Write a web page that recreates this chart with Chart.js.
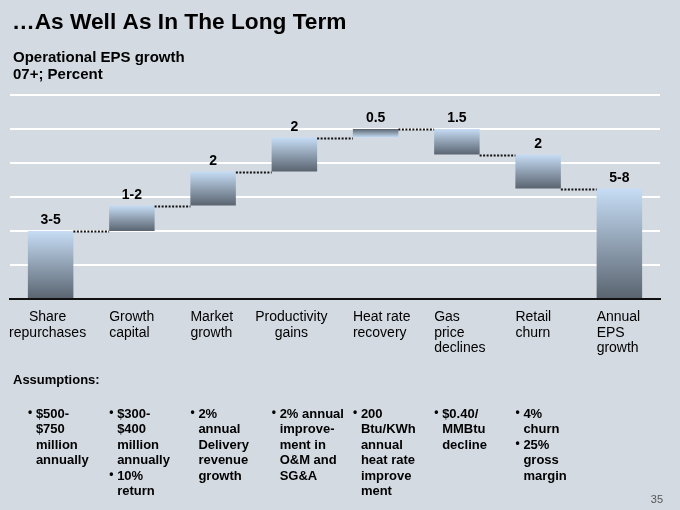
<!DOCTYPE html>
<html>
<head>
<meta charset="utf-8">
<script src="https://cdn.jsdelivr.net/npm/chart.js@4.4.1/dist/chart.umd.min.js"></script>
<style>
  html, body { margin: 0; padding: 0; background: #d3dae2; }
  #wrap { position: relative; width: 680px; height: 510px; }
</style>
</head>
<body>
<div id="wrap"><canvas id="eps" width="680" height="510"></canvas></div>
<script>
// chart data (bar extents are in chart units, 1 unit = one gridline step)
const categories = [
    ['Share', 'repurchases'],
    ['Growth', 'capital'],
    ['Market', 'growth'],
    ['Productivity', 'gains'],
    ['Heat rate', 'recovery'],
    ['Gas', 'price', 'declines'],
    ['Retail', 'churn'],
    ['Annual', 'EPS', 'growth']
];
const valueLabels = ['3-5', '1-2', '2', '2', '0.5', '1.5', '2', '5-8'];
const barStart = [0, 2, 2.75, 3.75, 4.75, 5, 4.25, 0];
const barEnd   = [2, 2.75, 3.75, 4.75, 5, 4.25, 3.25, 3.25];
const yTicks = [0, 1, 2, 3, 4, 5, 6];

const assumptions = [
    [['$500-', '$750', 'million', 'annually']],
    [['$300-', '$400', 'million', 'annually'], ['10%', 'return']],
    [['2%', 'annual', 'Delivery', 'revenue', 'growth']],
    [['2% annual', 'improve-', 'ment in', 'O&M and', 'SG&A']],
    [['200', 'Btu/KWh', 'annual', 'heat rate', 'improve', 'ment']],
    [['$0.40/', 'MMBtu', 'decline']],
    [['4%', 'churn'], ['25%', 'gross', 'margin']],
    []
];

// styling bits
const labelAlign = ['center', 'left', 'left', 'center', 'left', 'left', 'left', 'left'];
const flipShade = [false, false, false, false, true, false, false, false];
const FONT = '"Liberation Sans", Arial, sans-serif';

function barShade(ctx) {
    const chart = ctx.chart;
    const v = ctx.raw;
    if (!chart.chartArea || !Array.isArray(v)) return '#8fa3b8';
    const y = chart.scales.y;
    const top = y.getPixelForValue(Math.max(v[0], v[1]));
    const bot = y.getPixelForValue(Math.min(v[0], v[1]));
    const g = chart.ctx.createLinearGradient(0, top, 0, bot);
    const light = '#c6ddf5', dark = '#5a6470';
    g.addColorStop(0, flipShade[ctx.dataIndex] ? dark : light);
    g.addColorStop(1, flipShade[ctx.dataIndex] ? light : dark);
    return g;
}

// connectors, value labels, category labels and slide text
const waterfallExtras = {
    id: 'waterfallExtras',
    afterDatasetsDraw(chart) {
        const ctx = chart.ctx;
        const meta = chart.getDatasetMeta(0);
        const y = chart.scales.y;

        // dotted connectors between consecutive bars
        ctx.save();
        ctx.strokeStyle = '#111';
        ctx.lineWidth = 2;
        ctx.setLineDash([2, 1.5]);
        for (let i = 0; i < meta.data.length - 1; i++) {
            const a = meta.data[i], b = meta.data[i + 1];
            const py = Math.round(y.getPixelForValue(barEnd[i])) + 0.5;
            ctx.beginPath();
            ctx.moveTo(a.x + a.width / 2, py);
            ctx.lineTo(b.x - b.width / 2, py);
            ctx.stroke();
        }
        ctx.restore();

        // value labels above each bar
        ctx.save();
        ctx.fillStyle = '#000';
        ctx.font = 'bold 14px ' + FONT;
        ctx.textAlign = 'center';
        ctx.textBaseline = 'alphabetic';
        meta.data.forEach((bar, i) => {
            const top = y.getPixelForValue(Math.max(barStart[i], barEnd[i]));
            ctx.fillText(valueLabels[i], bar.x, top - 7);
        });
        ctx.restore();
    },
    afterDraw(chart) {
        const ctx = chart.ctx;
        const meta = chart.getDatasetMeta(0);
        const area = chart.chartArea;

        ctx.save();
        ctx.fillStyle = '#000';
        ctx.textBaseline = 'alphabetic';

        // headings
        ctx.textAlign = 'left';
        ctx.font = 'bold 22.7px ' + FONT;
        ctx.fillText('\u2026As Well As In The Long Term', 12, 29);
        ctx.font = 'bold 15px ' + FONT;
        ctx.fillText('Operational EPS growth', 13, 62);
        ctx.fillText('07+; Percent', 13, 79);

        // category labels under the axis
        ctx.font = '14px ' + FONT;
        meta.data.forEach((bar, i) => {
            const left = labelAlign[i] === 'left';
            ctx.textAlign = left ? 'left' : 'center';
            const x = left ? bar.x - bar.width / 2 : bar.x - 3;
            categories[i].forEach((line, k) => {
                ctx.fillText(line, x, area.bottom + 22 + k * 15.5);
            });
        });

        // assumptions block
        ctx.textAlign = 'left';
        ctx.font = 'bold 13px ' + FONT;
        ctx.fillText('Assumptions:', 13, 384);
        meta.data.forEach((bar, i) => {
            const tx = bar.x - bar.width / 2 + 8;
            let row = 0;
            assumptions[i].forEach(item => {
                ctx.font = 'bold 12px ' + FONT;
                ctx.fillText('\u2022', tx - 8, 416 + row * 15.5);
                ctx.font = 'bold 13px ' + FONT;
                item.forEach(line => {
                    ctx.fillText(line, tx, 417.5 + row * 15.5);
                    row++;
                });
            });
        });

        // page number
        ctx.textAlign = 'right';
        ctx.fillStyle = '#555';
        ctx.font = '11px ' + FONT;
        ctx.fillText('35', 663, 503);
        ctx.restore();
    }
};

new Chart(document.getElementById('eps'), {
    type: 'bar',
    data: {
        labels: categories,
        datasets: [{
            data: barStart.map((s, i) => [s, barEnd[i]]),
            backgroundColor: barShade,
            borderWidth: 0,
            borderSkipped: false,
            categoryPercentage: 1,
            barPercentage: 0.56
        }]
    },
    options: {
        responsive: false,
        animation: false,
        layout: { padding: { left: 10, right: 20, top: 95, bottom: 211 } },
        plugins: { legend: { display: false }, tooltip: { enabled: false } },
        scales: {
            x: {
                ticks: { display: false },
                grid: { display: false, drawTicks: false },
                border: { display: true, color: '#111', width: 2 }
            },
            y: {
                min: yTicks[0],
                max: yTicks[yTicks.length - 1],
                afterBuildTicks: (axis) => { axis.ticks = yTicks.map(v => ({ value: v })); },
                ticks: { display: false },
                grid: {
                    drawTicks: false,
                    lineWidth: 2,
                    color: (c) => c.tick && c.tick.value === 0 ? 'rgba(0,0,0,0)' : '#ffffff'
                },
                border: { display: false }
            }
        }
    },
    plugins: [waterfallExtras]
});
</script>
</body>
</html>
